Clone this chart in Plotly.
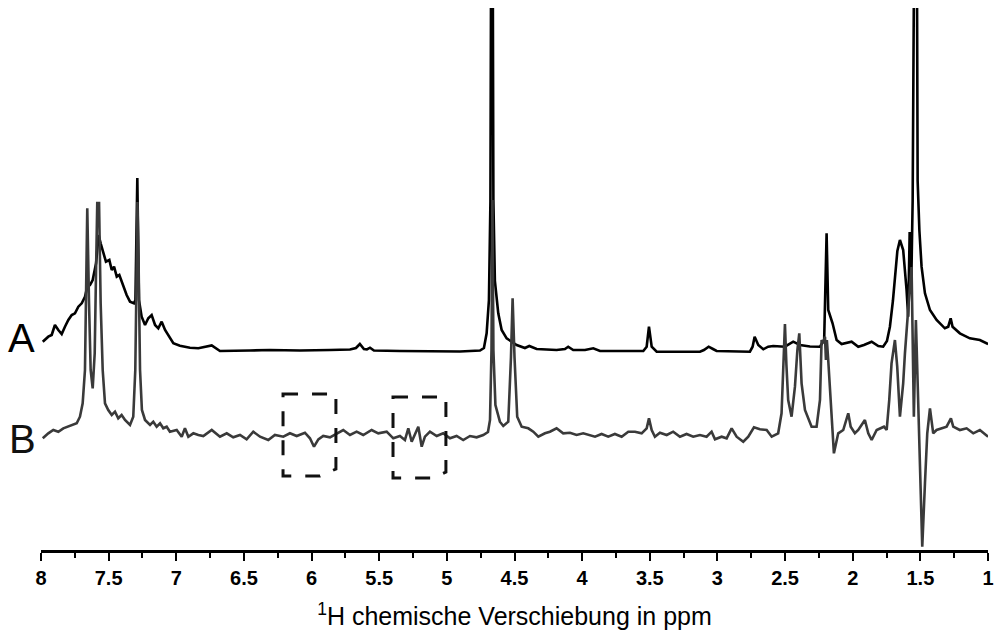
import plotly.graph_objects as go

# ---------------- data (ppm, intensity above own baseline) ----------------
ppm_A = [7.987, 7.946, 7.921, 7.897, 7.872, 7.847, 7.823, 7.798, 7.773, 7.749,
         7.724, 7.699, 7.675, 7.658, 7.638, 7.618, 7.593, 7.574, 7.559, 7.540,
         7.520, 7.495, 7.477, 7.460, 7.440, 7.421, 7.396, 7.367, 7.342, 7.313,
         7.302, 7.288, 7.276, 7.256, 7.231, 7.207, 7.182, 7.157, 7.133, 7.108,
         7.083, 7.052, 7.022, 6.973, 6.899, 6.837, 6.738, 6.677, 6.603, 6.455,
         6.308, 6.086, 5.864, 5.716, 5.672, 5.643, 5.613, 5.591, 5.568, 5.539,
         5.347, 5.125, 4.903, 4.755, 4.726, 4.706, 4.689, 4.678, 4.667, 4.656,
         4.645, 4.620, 4.595, 4.558, 4.521, 4.484, 4.423, 4.391, 4.336, 4.189,
         4.127, 4.103, 4.066, 3.979, 3.918, 3.868, 3.548, 3.523, 3.506, 3.486,
         3.449, 3.129, 3.100, 3.065, 3.033, 3.006, 2.760, 2.740, 2.725, 2.698,
         2.661, 2.625, 2.588, 2.501, 2.440, 2.390, 2.316, 2.242, 2.211, 2.193,
         2.181, 2.168, 2.149, 2.119, 2.082, 2.008, 1.959, 1.917, 1.860, 1.811,
         1.775, 1.747, 1.725, 1.703, 1.688, 1.670, 1.651, 1.627, 1.602, 1.590,
         1.579, 1.568, 1.557, 1.545, 1.533, 1.520, 1.507, 1.491, 1.466, 1.429,
         1.380, 1.319, 1.294, 1.276, 1.262, 1.208, 1.134, 1.060, 0.999]
int_A = [9.3, 14.3, 16, 26, 21, 17, 24.3, 31, 36, 37.7,
         44.3, 47.7, 54.3, 64.3, 66, 71, 87.7, 116, 107.7, 97.7,
         89.3, 91, 81, 84.3, 74.3, 76, 66, 56, 49.3, 47.7,
         51, 173, 51, 34.3, 26, 32.7, 36, 26, 22.7, 29.3,
         21, 14.3, 7.7, 5.3, 3.3, 2.7, 5.5, 0, 0, 0.5,
         1, 0.5, 1, 1.5, 3, 7, 2, 1.5, 3.3, 0.5,
         0, 0, -0.5, 0.5, 3, 17.7, 51, 150, 700, 150,
         70, 37.7, 21, 12.7, 9.3, 6, 3, 5, 2, 1,
         2, 4.3, 1, 1, 2.7, 0, 0, 4.3, 24.3, 4.3,
         -0.7, -0.7, 1, 4.3, 2, 0, -0.7, 4.3, 14.3, 6,
         1.7, 4.3, 5, 4.3, 9.3, 6, 4.5, 4.3, 11, 117.7,
         41, 36, 27.7, 11, 7, 9.3, 4.3, 6, 9.3, 5,
         4.3, 10, 24.3, 50, 74.3, 100, 111, 101, 61, 34.3,
         119, 60, 150, 700, 700, 170, 120, 84.3, 57.7, 41,
         31, 22.7, 24.3, 32.7, 24.3, 17.7, 12.7, 11, 7]

ppm_B = [7.987, 7.946, 7.909, 7.872, 7.835, 7.798, 7.761, 7.736, 7.712, 7.692,
         7.675, 7.667, 7.658, 7.645, 7.633, 7.618, 7.603, 7.593, 7.584, 7.577,
         7.571, 7.559, 7.544, 7.527, 7.503, 7.477, 7.453, 7.429, 7.404, 7.379,
         7.342, 7.318, 7.303, 7.293, 7.287, 7.278, 7.268, 7.254, 7.231, 7.194,
         7.170, 7.145, 7.120, 7.096, 7.071, 7.047, 6.997, 6.960, 6.936, 6.911,
         6.874, 6.837, 6.800, 6.738, 6.677, 6.627, 6.579, 6.529, 6.480, 6.431,
         6.381, 6.320, 6.271, 6.209, 6.160, 6.110, 6.049, 6.012, 5.982, 5.950,
         5.914, 5.864, 5.815, 5.766, 5.716, 5.667, 5.618, 5.556, 5.507, 5.445,
         5.396, 5.347, 5.310, 5.285, 5.260, 5.236, 5.211, 5.186, 5.162, 5.125,
         5.075, 5.027, 4.977, 4.928, 4.879, 4.829, 4.780, 4.731, 4.696, 4.681,
         4.670, 4.663, 4.656, 4.641, 4.608, 4.583, 4.546, 4.526, 4.514, 4.500,
         4.480, 4.447, 4.398, 4.361, 4.324, 4.275, 4.238, 4.189, 4.140, 4.090,
         4.041, 3.992, 3.942, 3.905, 3.856, 3.807, 3.758, 3.708, 3.659, 3.610,
         3.560, 3.523, 3.506, 3.486, 3.462, 3.425, 3.375, 3.327, 3.277, 3.228,
         3.179, 3.129, 3.080, 3.043, 3.018, 2.969, 2.932, 2.895, 2.858, 2.809,
         2.772, 2.730, 2.686, 2.636, 2.599, 2.551, 2.526, 2.512, 2.501, 2.490,
         2.477, 2.452, 2.427, 2.409, 2.395, 2.378, 2.353, 2.304, 2.267, 2.242,
         2.230, 2.218, 2.205, 2.198, 2.191, 2.181, 2.163, 2.139, 2.107, 2.070,
         2.033, 2.015, 1.984, 1.959, 1.910, 1.885, 1.860, 1.823, 1.769, 1.749,
         1.730, 1.713, 1.688, 1.671, 1.651, 1.627, 1.614, 1.597, 1.582, 1.565,
         1.548, 1.533, 1.516, 1.498, 1.486, 1.466, 1.449, 1.429, 1.405, 1.380,
         1.343, 1.306, 1.274, 1.257, 1.208, 1.158, 1.109, 1.060, 0.999]
int_B = [-3.3, 1.7, 5, 3.3, 6.7, 8.3, 10, 11.7, 18.3, 31.7,
         65, 131.7, 226.7, 131.7, 65, 46.7, 81.7, 165, 233.3, 215,
         233.3, 131.7, 65, 31.7, 25, 20, 23.3, 16.7, 20, 15,
         10, 18.3, 65, 165, 233, 165, 65, 25, 15, 10,
         13.3, 8.3, 11.7, 6.7, 8.3, 3.3, 5, -1.7, 6.7, -1.7,
         1.7, 0, -1, 5, -1.7, 1.7, -2.3, 0, -4.3, 3.3,
         -1.7, -5, 0, -1.7, 1.7, -1, 2.3, -3.3, -11.7, -4.3,
         -1, -2.3, 1.7, 5, 0, 3.3, 0, 5, 1.7, 3.3,
         -3.3, -1, -5, 6.7, -6.7, 0, 8.3, -11.7, -1.7, 3.3,
         -1, 1.7, -3.3, -1, -5, -1, -2.3, 0, 3, 15,
         85, 235, 85, 30, 13.3, 9, 13.3, 78, 136.7, 78,
         18.3, 8.3, 6.7, 3.3, -1.7, 1.7, 3.3, 6.7, 1.7, 2.3,
         0, 1.7, 0, -1.7, 1, -1.7, 1, -1.7, 3.3, 3.3,
         1.7, 6.7, 16.7, 5, -1.7, 2.3, 0, 3.3, -1.7, 1,
         -1.7, 0, -1.7, 3.3, -4.3, -1.7, -3.3, 6.7, -1.7, -6.7,
         -1.7, 7.7, 5.7, 5, -1.7, 1.7, 21.7, 70, 111, 70,
         35, 18.3, 48.3, 85, 101.7, 51.7, 25, 8.3, 8.3, 35,
         95, 92, 98.3, 75, 95, 75, 35, -18.3, 1.7, 5,
         21.7, 8.3, 1.7, 5, 15, 1.7, -5, 5, 8.3, 5,
         35, 71.7, 95, 68.3, 18.3, 51.7, 81.7, 118.3, 140, 168,
         18.3, 115, 35, -65, -111.7, -48.3, 1.7, 26.7, 1.7, 5,
         6.7, 8.3, 16.7, 8.3, 5, 6.7, 1.7, 5, -1.7]

# vertical stacking offsets of the two spectra
offset_A = 199
offset_B = 115

tick_vals = [8, 7.5, 7, 6.5, 6, 5.5, 5, 4.5, 4, 3.5, 3, 2.5, 2, 1.5, 1]
tick_text = ["8", "7.5", "7", "6.5", "6", "5.5", "5", "4.5", "4", "3.5", "3",
             "2.5", "2", "1.5", "1"]

series_labels = ["A", "B"]

# dashed highlight boxes (ppm, intensity-scale) as outline vertices
box1_x = [6.211, 5.820, 5.820, 5.938, 6.211]
box1_y = [156, 156, 81, 74, 74]
box2_x = [5.398, 5.007, 5.007, 5.103, 5.398]
box2_y = [153, 153, 78, 72, 72]

fig = go.Figure()
fig.add_trace(go.Scatter(x=ppm_A, y=[v + offset_A for v in int_A], mode="lines",
                         line=dict(color="#000000", width=2.6), name="A",
                         showlegend=False))
fig.add_trace(go.Scatter(x=ppm_B, y=[v + offset_B for v in int_B], mode="lines",
                         line=dict(color="#3a3a3a", width=2.6), name="B",
                         showlegend=False))


def box_path(xs, ys):
    pts = " L ".join(f"{x},{y}" for x, y in zip(xs, ys))
    return "M " + pts + " Z"


shapes = []
for bx, by in ((box1_x, box1_y), (box2_x, box2_y)):
    shapes.append(dict(type="path", xref="x", yref="y", path=box_path(bx, by),
                       line=dict(color="#111111", width=3, dash="15px,14px")))

fig.update_layout(
    width=994, height=630,
    margin=dict(l=41, r=6, t=8, b=80),
    paper_bgcolor="white", plot_bgcolor="white",
    shapes=shapes,
    annotations=[
        dict(text=series_labels[0], x=-0.021, y=offset_A + 13, xref="paper", yref="y",
             showarrow=False, xanchor="center", yanchor="middle",
             font=dict(family="Liberation Sans, Arial", size=40, color="#000000")),
        dict(text=series_labels[1], x=-0.020, y=offset_B - 4, xref="paper", yref="y",
             showarrow=False, xanchor="center", yanchor="middle",
             font=dict(family="Liberation Sans, Arial", size=40, color="#111111")),
    ],
    xaxis=dict(
        range=[8, 1], showgrid=False, zeroline=False, automargin=False,
        showline=True, linewidth=3, linecolor="#000000",
        ticks="outside", ticklen=8, tickwidth=2, tickcolor="#000000",
        tickvals=tick_vals, ticktext=tick_text,
        tickfont=dict(family="Liberation Sans, Arial", size=20, color="#000000",
                      weight="bold"),
        minor=dict(ticks="outside", ticklen=5, tickwidth=2, tickcolor="#000000",
                   dtick=0.25, tick0=1, showgrid=False),
        title=dict(text="<sup>1</sup>H chemische Verschiebung in ppm",
                   font=dict(family="Liberation Sans, Arial", size=25, color="#000000"),
                   standoff=28),
    ),
    yaxis=dict(range=[0, 542], visible=False, showgrid=False, zeroline=False),
)

fig.write_html("out.html")
